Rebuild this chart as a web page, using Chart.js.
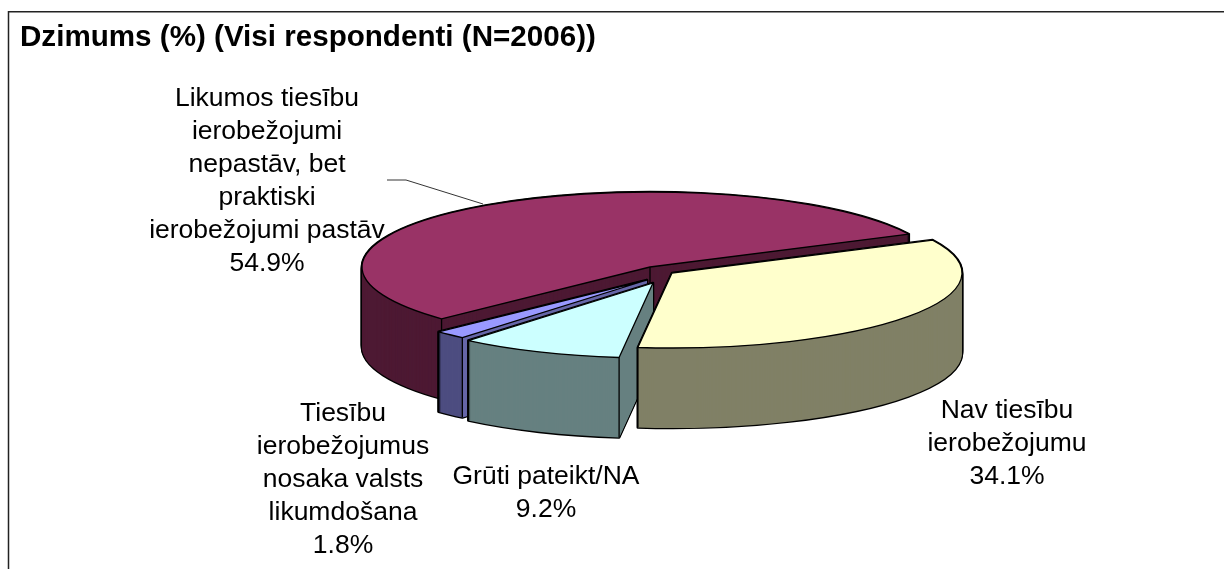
<!DOCTYPE html>
<html><head><meta charset="utf-8">
<style>html,body{margin:0;padding:0;background:#fff}#wrap{width:1224px;height:569px;position:relative}canvas{display:block}</style>
<script src="https://cdn.jsdelivr.net/npm/chart.js@4"></script>
</head><body><div id="wrap"><canvas id="c" width="1224" height="569"></canvas></div>
<script>
const chartTitle = "Dzimums (%) (Visi respondenti (N=2006))";
const categories = [
  ["Nav tiesību","ierobežojumu"],
  ["Grūti pateikt/NA"],
  ["Tiesību","ierobežojumus","nosaka valsts","likumdošana"],
  ["Likumos tiesību","ierobežojumi","nepastāv, bet","praktiski","ierobežojumi pastāv"]
];
const values = [34.1, 9.2, 1.8, 54.9];

// styling and layout, separate from the data
const topColors  = ["#FFFFCC","#CCFFFF","#9999FF","#993366"];
const sideColors = ["#808066","#668080","#4D4D80","#4D1933"];
const faceColors = [null,"#668080","#6666A8",null];
const apexes = [[672,273],[653,283],[647,280],[650,267]];
const radiiX = [290,288,288,288];
const radiusY = 75;
const depth = 80;
const paintOrder = [3,2,1,0];
const labelAnchors = [[1007,418],[546,484],[343,421],[267,105.5]];
const labelFont = '26.5px "Liberation Sans", Arial, sans-serif';
const labelLine = 33;

function strokeInDeviceSpace(ctx, fn){
  const orig = ctx.stroke;
  ctx.stroke = function(){
    const m = ctx.getTransform();
    ctx.setTransform(1,0,0,1,0,0);
    orig.call(ctx);
    ctx.setTransform(m);
  };
  fn();
  delete ctx.stroke;
}
function drawFace(ctx, arc, i, dy, opts){
  const saved = arc.options;
  arc.options = Object.assign({}, saved, opts);
  const [ax, ay] = apexes[i];
  const R = arc.outerRadius;
  ctx.save();
  ctx.translate(ax, ay + dy);
  ctx.scale(radiiX[i]/R, radiusY/R);
  ctx.translate(-arc.x, -arc.y);
  arc.draw(ctx);
  ctx.restore();
  arc.options = saved;
}
const pie3d = {
  id:'pie3d',
  beforeDraw(chart){
    const ctx = chart.ctx;
    ctx.save();
    ctx.fillStyle='#fff'; ctx.fillRect(0,0,chart.width,chart.height);
    ctx.strokeStyle='#222'; ctx.lineWidth=1.5;
    ctx.beginPath();
    ctx.moveTo(8.5,chart.height); ctx.lineTo(8.5,11.75); ctx.lineTo(chart.width,11.75);
    ctx.stroke();
    ctx.restore();
  },
  beforeDatasetsDraw(chart){
    const ctx = chart.ctx;
    const arcs = chart.getDatasetMeta(0).data;
    strokeInDeviceSpace(ctx, ()=>{
      paintOrder.forEach(i=>{
        const arc = arcs[i];
        const [ax,ay] = apexes[i];
        for(let d=depth;d>=0;d-=1)
          drawFace(ctx,arc,i,d,{backgroundColor:'#000',borderColor:'#000',borderWidth:2.6,borderJoinStyle:'round'});
        for(let d=depth;d>=0;d-=1)
          drawFace(ctx,arc,i,d,{backgroundColor:sideColors[i],borderWidth:0});
        const sx=ax+radiiX[i]*Math.cos(arc.startAngle), sy=ay+radiusY*Math.sin(arc.startAngle);
        if(faceColors[i]){
          ctx.save();
          ctx.fillStyle=faceColors[i];
          ctx.beginPath(); ctx.moveTo(sx,sy); ctx.lineTo(ax,ay); ctx.lineTo(ax,ay+depth); ctx.lineTo(sx,sy+depth); ctx.closePath(); ctx.fill();
          ctx.restore();
        }
        // visible vertical edges
        ctx.save();
        ctx.strokeStyle='#000'; ctx.lineWidth=1.3;
        [arc.startAngle,arc.endAngle].forEach(a=>{
          if(Math.sin(a)>0){
            const x=ax+radiiX[i]*Math.cos(a), y=ay+radiusY*Math.sin(a);
            ctx.beginPath(); ctx.moveTo(x,y); ctx.lineTo(x,y+depth); ctx.stroke();
          }
        });
        if(arc.circumference>Math.PI){
          ctx.beginPath(); ctx.moveTo(ax,ay); ctx.lineTo(ax,ay+depth); ctx.stroke();
        }
        ctx.restore();
        drawFace(ctx,arc,i,0,{backgroundColor:topColors[i],borderColor:'#000',borderWidth:1.3,borderJoinStyle:'round'});
      });
    });
    return false;
  },
  afterDraw(chart){
    const ctx = chart.ctx;
    ctx.save();
    ctx.strokeStyle='#000'; ctx.lineWidth=0.8;
    ctx.beginPath(); ctx.moveTo(387,180); ctx.lineTo(406,180); ctx.lineTo(483,204); ctx.stroke();
    ctx.font=labelFont; ctx.fillStyle='#000'; ctx.textAlign='center'; ctx.textBaseline='alphabetic';
    categories.forEach((lines,i)=>{
      const all = lines.concat([values[i].toFixed(1)+'%']);
      const [cx,cy] = labelAnchors[i];
      all.forEach((t,k)=>ctx.fillText(t,cx,cy+k*labelLine));
    });
    ctx.restore();
  }
};
new Chart(document.getElementById('c'),{
  type:'pie',
  data:{labels:categories.map(l=>l.join(' ')),datasets:[{data:values,backgroundColor:topColors,borderColor:'#000',borderWidth:1}]},
  options:{
    responsive:false,animation:false,rotation:64,
    layout:{padding:{left:20,top:20,right:0,bottom:0}},
    plugins:{
      legend:{display:false},tooltip:{enabled:false},
      title:{display:true,text:chartTitle,align:'start',color:'#000',
        font:{family:'"Liberation Sans", Arial, sans-serif',size:29.6,weight:'bold'},padding:{top:0,bottom:10}}
    }
  },
  plugins:[pie3d]
});
</script></body></html>
